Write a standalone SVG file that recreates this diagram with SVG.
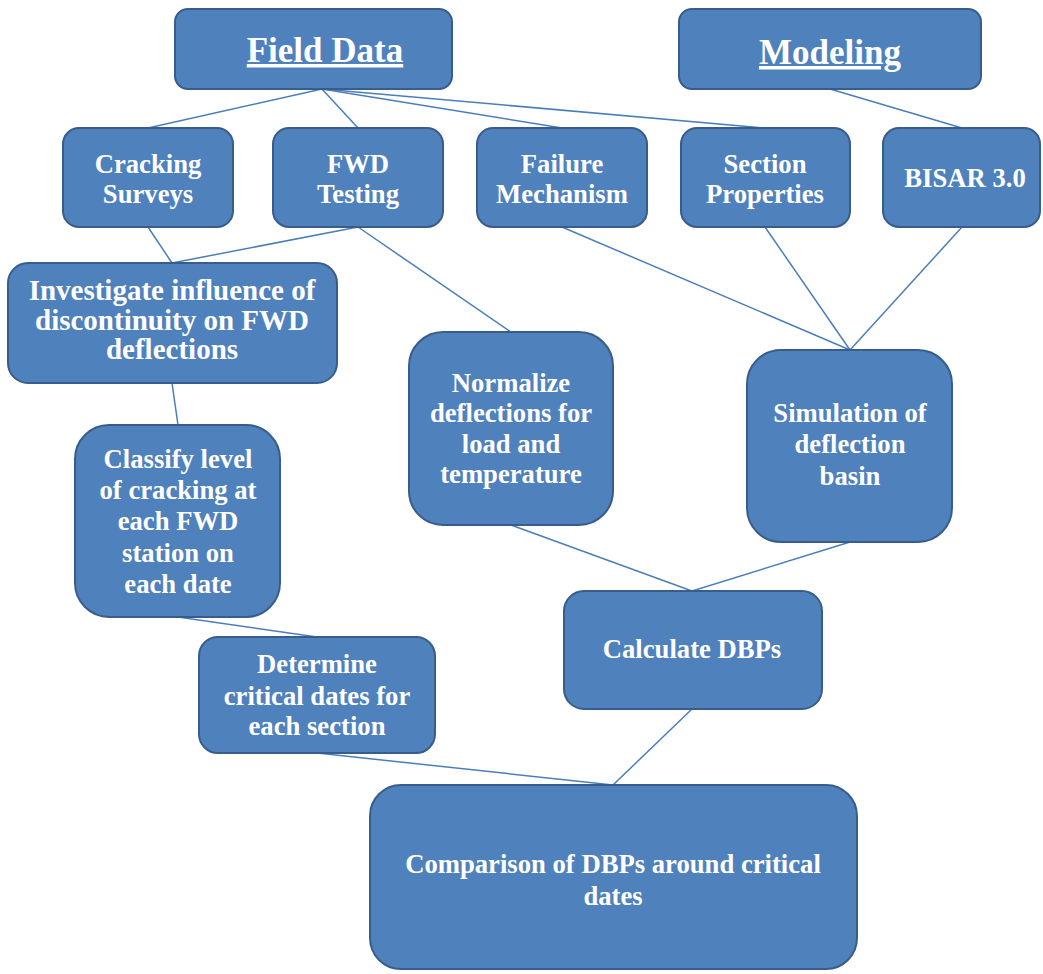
<svg xmlns="http://www.w3.org/2000/svg" width="1043" height="974" viewBox="0 0 1043 974">
<style>
.box{fill:#4f81bd;stroke:#385d8a;stroke-width:2}
text{font-family:'Liberation Serif',serif;font-weight:700;font-size:26.67px;fill:#ffffff;text-anchor:middle}
.h{font-size:35px;text-decoration:underline}
.big{font-size:29px}
#connectors line{stroke:#4a7ebb;stroke-width:1.5}
</style>
<rect width="1043" height="974" fill="#ffffff"/>
<g id="connectors">
<line x1="322" y1="89" x2="148" y2="128"/>
<line x1="322" y1="89" x2="358" y2="128"/>
<line x1="322" y1="89" x2="562" y2="128"/>
<line x1="322" y1="89" x2="765" y2="128"/>
<line x1="830" y1="89" x2="962" y2="128"/>
<line x1="148" y1="227" x2="172" y2="263"/>
<line x1="358" y1="227" x2="172" y2="263"/>
<line x1="358" y1="227" x2="511" y2="332"/>
<line x1="562" y1="227" x2="850" y2="350"/>
<line x1="765" y1="227" x2="850" y2="350"/>
<line x1="962" y1="227" x2="850" y2="350"/>
<line x1="172" y1="383" x2="178" y2="425"/>
<line x1="178" y1="617" x2="317" y2="637"/>
<line x1="511" y1="525" x2="692" y2="591"/>
<line x1="850" y1="542" x2="692" y2="591"/>
<line x1="317" y1="753" x2="613" y2="785"/>
<line x1="692" y1="709" x2="613" y2="785"/>
</g>
<g id="field-data">
<rect class="box" x="175" y="9" width="277" height="80" rx="13"/>
<text class="h" x="325" y="62">Field Data</text>
</g>
<g id="modeling">
<rect class="box" x="679" y="9" width="302" height="80" rx="13"/>
<text class="h" x="830" y="64">Modeling</text>
</g>
<g id="cracking-surveys">
<rect class="box" x="63" y="128" width="170" height="99" rx="16"/>
<text x="148" y="173">Cracking</text>
<text x="148" y="203">Surveys</text>
</g>
<g id="fwd-testing">
<rect class="box" x="273" y="128" width="170" height="99" rx="16"/>
<text x="358" y="173">FWD</text>
<text x="358" y="203">Testing</text>
</g>
<g id="failure-mechanism">
<rect class="box" x="477" y="128" width="170" height="99" rx="16"/>
<text x="562" y="173">Failure</text>
<text x="562" y="203">Mechanism</text>
</g>
<g id="section-properties">
<rect class="box" x="681" y="128" width="169" height="99" rx="16"/>
<text x="765" y="173">Section</text>
<text x="765" y="203">Properties</text>
</g>
<g id="bisar">
<rect class="box" x="883" y="128" width="157" height="99" rx="16"/>
<text x="965" y="187">BISAR 3.0</text>
</g>
<g id="investigate">
<rect class="box" x="8" y="263" width="329" height="120" rx="20"/>
<text class="big" x="172" y="300">Investigate influence of</text>
<text class="big" x="172" y="330">discontinuity on FWD</text>
<text class="big" x="172" y="359">deflections</text>
</g>
<g id="normalize">
<rect class="box" x="409" y="332" width="204" height="193" rx="34"/>
<text x="511" y="392">Normalize</text>
<text x="511" y="422">deflections for</text>
<text x="511" y="453">load and</text>
<text x="511" y="483">temperature</text>
</g>
<g id="simulation">
<rect class="box" x="747" y="350" width="205" height="192" rx="34"/>
<text x="850" y="422">Simulation of</text>
<text x="850" y="453">deflection</text>
<text x="850" y="485">basin</text>
</g>
<g id="classify">
<rect class="box" x="75" y="425" width="205" height="192" rx="34"/>
<text x="178" y="468">Classify level</text>
<text x="178" y="499">of cracking at</text>
<text x="178" y="530">each FWD</text>
<text x="178" y="562">station on</text>
<text x="178" y="593">each date</text>
</g>
<g id="determine">
<rect class="box" x="199" y="637" width="236" height="116" rx="19"/>
<text x="317" y="673">Determine</text>
<text x="317" y="705">critical dates for</text>
<text x="317" y="735">each section</text>
</g>
<g id="calculate">
<rect class="box" x="564" y="591" width="258" height="118" rx="20"/>
<text x="692" y="658">Calculate DBPs</text>
</g>
<g id="comparison">
<rect class="box" x="370" y="785" width="487" height="184" rx="31"/>
<text x="613" y="873">Comparison of DBPs around critical</text>
<text x="613" y="905">dates</text>
</g>
</svg>
